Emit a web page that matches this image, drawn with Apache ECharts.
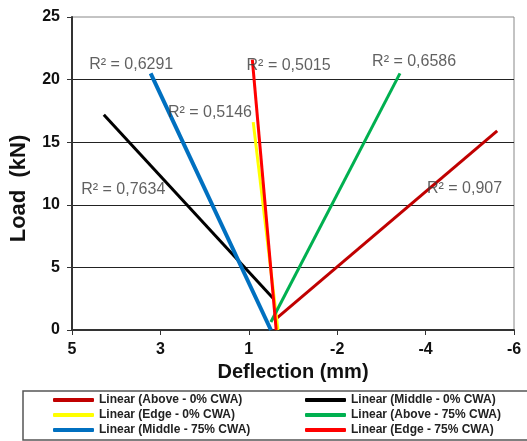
<!DOCTYPE html>
<html>
<head>
<meta charset="utf-8">
<script src="https://cdn.jsdelivr.net/npm/echarts@6/dist/echarts.min.js"></script>
<style>
html, body { margin: 0; padding: 0; background: #fff; }
#chart { width: 527px; height: 441px; }
</style>
</head>
<body>
<div id="chart"></div>
<script>
// tick labels of the deflection axis (evenly spaced in the original)
var tickLabels = ['5', '3', '1', '-2', '-4', '-6'];

var names = ['Linear (Above - 0% CWA)', 'Linear (Middle - 0% CWA)', 'Linear (Edge - 0% CWA)',
    'Linear (Above - 75% CWA)', 'Linear (Middle - 75% CWA)', 'Linear (Edge - 75% CWA)'];
var colors = ['#C00000', '#000000', '#FFFF00', '#00B050', '#0070C0', '#FF0000'];
var widths = [3, 3, 3, 3, 4, 3];

// trendline ends, x = position along the deflection ticks (0 -> '5', 5 -> '-6')
var startX = [2.32, 0.36, 2.05, 2.25, 0.89, 2.04];
var startY = [0.96, 17.2, 16.6, 0.64, 20.5, 21.6];
var endX = [4.81, 2.28, 2.33, 3.71, 2.25, 2.31];
var endY = [15.9, 2.5, 0, 20.5, 0, 0];

// R² labels
var r2Text = ['R² = 0,907', 'R² = 0,7634', 'R² = 0,5146', 'R² = 0,6586', 'R² = 0,6291', 'R² = 0,5015'];
var r2X = [4.44, 0.58, 1.56, 3.87, 0.67, 2.45];
var r2Y = [11.3, 11.2, 17.4, 21.4, 21.2, 21.1];

var series = [];
for (var i = 0; i < names.length; i++) {
    series.push({
        name: names[i],
        type: 'line',
        symbol: 'none',
        color: colors[i],
        lineStyle: { width: widths[i], color: colors[i] },
        data: [[startX[i], startY[i]], [endX[i], endY[i]]],
        z: 3 + i
    });
}
var r2Data = [];
for (var j = 0; j < r2Text.length; j++) {
    r2Data.push([r2X[j], r2Y[j], r2Text[j]]);
}
series.push({
    type: 'scatter',
    symbolSize: 0,
    silent: true,
    z: 20,
    label: {
        show: true,
        position: 'inside',
        formatter: function (p) { return p.value[2]; },
        fontFamily: 'Liberation Sans',
        fontSize: 16,
        color: '#3a3a3a'
    },
    data: r2Data
});

var legendText = { fontFamily: 'Liberation Sans', fontSize: 12, fontWeight: 'bold', color: '#222', lineHeight: 14 };

var myChart = echarts.init(document.getElementById('chart'));
var myoption = {
    animation: false,
    grid: { left: 68, right: 13, top: 17, bottom: 111, show: true, borderColor: '#888', borderWidth: 1 },
    xAxis: {
        type: 'value',
        min: 0,
        max: 5,
        interval: 1,
        name: 'Deflection (mm)',
        nameLocation: 'middle',
        nameGap: 32,
        nameTextStyle: { fontFamily: 'Liberation Sans', fontSize: 20, fontWeight: 'bold', color: '#111' },
        axisLine: { lineStyle: { color: '#333', width: 2 } },
        axisTick: { show: true, length: 5, lineStyle: { color: '#333' } },
        axisLabel: {
            margin: 12,
            fontFamily: 'Liberation Sans', fontSize: 16, fontWeight: 'bold', color: '#111',
            formatter: function (v) { return tickLabels[Math.round(v)]; }
        },
        splitLine: { show: false }
    },
    yAxis: {
        type: 'value',
        min: 0,
        max: 25,
        interval: 5,
        name: 'Load  (kN)',
        nameLocation: 'middle',
        nameGap: 42,
        nameTextStyle: { fontFamily: 'Liberation Sans', fontSize: 22, fontWeight: 'bold', color: '#111', padding: [0, 30, 0, 0] },
        axisLine: { show: true, lineStyle: { color: '#333', width: 2 } },
        axisTick: { show: true, length: 5, lineStyle: { color: '#333' } },
        axisLabel: { margin: 12, fontFamily: 'Liberation Sans', fontSize: 16, fontWeight: 'bold', color: '#111' },
        splitLine: { show: true, showMaxLine: false, lineStyle: { color: '#222', width: 1 } }
    },
    legend: [{
        orient: 'vertical',
        left: 53,
        top: 393,
        padding: 0,
        itemGap: 1,
        itemWidth: 41,
        itemHeight: 4,
        icon: 'roundRect',
        textStyle: legendText,
        data: [names[0], names[2], names[4]]
    }, {
        orient: 'vertical',
        left: 305,
        top: 393,
        padding: 0,
        itemGap: 1,
        itemWidth: 41,
        itemHeight: 4,
        icon: 'roundRect',
        textStyle: legendText,
        data: [names[1], names[3], names[5]]
    }],
    graphic: [{
        type: 'rect',
        silent: true,
        shape: { x: 23, y: 391, width: 520, height: 49 },
        style: { fill: 'none', stroke: '#555', lineWidth: 1.5 }
    }],
    series: series
};
myChart.setOption(myoption);

window.onresize = function () {
    myChart.resize();
};
</script>
</body>
</html>
